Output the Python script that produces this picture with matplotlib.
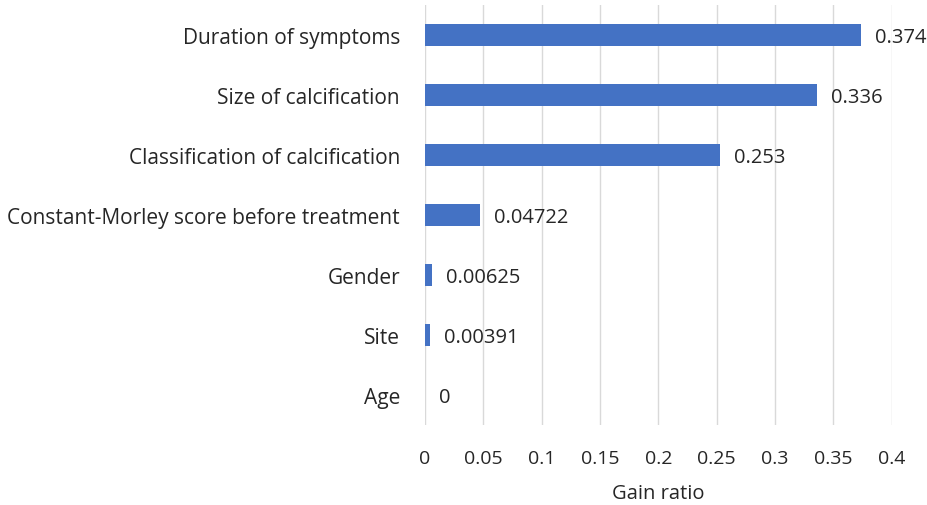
import matplotlib
matplotlib.use("Agg")
import matplotlib.pyplot as plt

categories = ["Duration of symptoms", "Size of calcification", "Classification of calcification",
              "Constant-Morley score before treatment", "Gender", "Site", "Age"]
values = [0.374, 0.336, 0.253, 0.04722, 0.00625, 0.00391, 0]
value_labels = ["0.374", "0.336", "0.253", "0.04722", "0.00625", "0.00391", "0"]
xticks = [0, 0.05, 0.1, 0.15, 0.2, 0.25, 0.3, 0.35, 0.4]
xtick_labels = ["0", "0.05", "0.1", "0.15", "0.2", "0.25", "0.3", "0.35", "0.4"]

plt.rcParams['font.family'] = ['Open Sans', 'DejaVu Sans']
fig = plt.figure(figsize=(9.28, 5.06), dpi=100)
ax = fig.add_axes([0.458, 0.158, 0.503, 0.830])

y = list(range(len(categories)))
ax.barh(y, values, height=0.36, color="#4472C4", zorder=3)
for yi, v, lab in zip(y, values, value_labels):
    ax.text(v + 0.012, yi + 0.04, lab, va="center", ha="left", fontsize=14.5, color="#262626")

ax.set_yticks(y)
ax.set_yticklabels(categories, fontsize=15, color="#262626")
ax.set_ylim(len(categories) - 0.5, -0.5)
ax.set_xlim(0, 0.4)
ax.set_xticks(xticks)
ax.set_xticklabels(xtick_labels, fontsize=14, color="#262626")
ax.set_xlabel("Gain ratio", fontsize=14.5, color="#262626", labelpad=12)
ax.grid(axis="x", color="#D9D9D9", linewidth=1, zorder=0)
for s in ax.spines.values():
    s.set_visible(False)
ax.tick_params(axis="x", length=0, pad=17)
ax.tick_params(axis="y", length=0, pad=18)

fig.savefig("out.png", dpi=100, facecolor="white")
